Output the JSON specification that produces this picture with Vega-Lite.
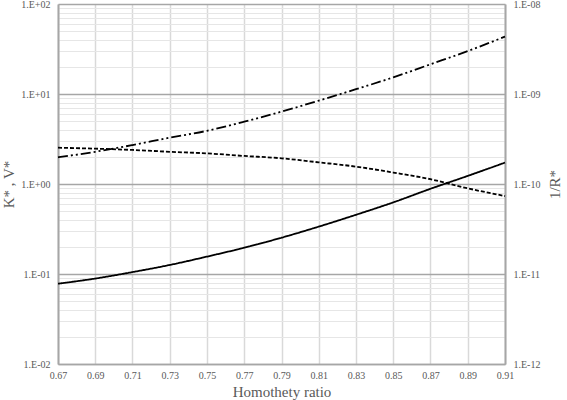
{
  "$schema": "https://vega.github.io/schema/vega-lite/v6.json",
  "autosize": "none",
  "width": 447,
  "height": 360,
  "padding": {"left": 58, "top": 4, "right": 62, "bottom": 36},
  "background": "white",
  "config": {
    "view": {"stroke": null},
    "axis": {"labelFont": "Liberation Serif", "titleFont": "Liberation Serif", "labelColor": "#595959", "titleColor": "#595959", "labelFontSize": 10, "titleFontSize": 15, "titleFontWeight": "normal", "ticks": false, "domainColor": "#a6a6a6", "domainWidth": 2, "labelOverlap": false, "labelBound": false}
  },
  "datasets": {
    "curves": [
      {"series": "K", "x": 0.67, "v": 0.078},
      {"series": "K", "x": 0.69, "v": 0.089},
      {"series": "K", "x": 0.71, "v": 0.105},
      {"series": "K", "x": 0.73, "v": 0.126},
      {"series": "K", "x": 0.75, "v": 0.156},
      {"series": "K", "x": 0.77, "v": 0.196},
      {"series": "K", "x": 0.79, "v": 0.253},
      {"series": "K", "x": 0.81, "v": 0.336},
      {"series": "K", "x": 0.83, "v": 0.455},
      {"series": "K", "x": 0.85, "v": 0.625},
      {"series": "K", "x": 0.87, "v": 0.885},
      {"series": "K", "x": 0.89, "v": 1.23},
      {"series": "K", "x": 0.91, "v": 1.73},
      {"series": "V", "x": 0.67, "v": 2.53},
      {"series": "V", "x": 0.69, "v": 2.47},
      {"series": "V", "x": 0.71, "v": 2.39},
      {"series": "V", "x": 0.73, "v": 2.28},
      {"series": "V", "x": 0.75, "v": 2.19},
      {"series": "V", "x": 0.77, "v": 2.05},
      {"series": "V", "x": 0.79, "v": 1.93},
      {"series": "V", "x": 0.81, "v": 1.74},
      {"series": "V", "x": 0.83, "v": 1.56},
      {"series": "V", "x": 0.85, "v": 1.34},
      {"series": "V", "x": 0.87, "v": 1.13},
      {"series": "V", "x": 0.89, "v": 0.895},
      {"series": "V", "x": 0.91, "v": 0.735}
    ],
    "rstar": [
      {"x": 0.67, "r": 1.98e-10},
      {"x": 0.69, "r": 2.28e-10},
      {"x": 0.71, "r": 2.71e-10},
      {"x": 0.73, "r": 3.27e-10},
      {"x": 0.75, "r": 3.9e-10},
      {"x": 0.77, "r": 4.92e-10},
      {"x": 0.79, "r": 6.37e-10},
      {"x": 0.81, "r": 8.43e-10},
      {"x": 0.83, "r": 1.13e-9},
      {"x": 0.85, "r": 1.53e-9},
      {"x": 0.87, "r": 2.14e-9},
      {"x": 0.89, "r": 3.0e-9},
      {"x": 0.91, "r": 4.34e-9}
    ]
  },
  "layer": [
    {
      "data": {"name": "curves"},
      "mark": {"type": "line", "color": "black", "strokeWidth": 1.8, "interpolate": "monotone"},
      "encoding": {
        "x": {"field": "x", "type": "quantitative", "scale": {"domain": [0.67, 0.91], "nice": false, "zero": false},
          "axis": {"title": "Homothety ratio", "values": [0.67,0.69,0.71,0.73,0.75,0.77,0.79,0.81,0.83,0.85,0.87,0.89,0.91], "format": ".2f", "grid": true, "gridColor": "#d9d9d9", "gridWidth": 1.5, "labelPadding": 6, "titlePadding": 4, "domainWidth": 1.5, "labelOverlap": false, "labelFlush": false, "labelBound": false}},
        "y": {"field": "v", "type": "quantitative", "scale": {"type": "log", "domain": [0.01, 100], "nice": false},
          "axis": {"title": "K* , V*", "orient": "left",
            "values": [0.01,0.02,0.03,0.04,0.05,0.06,0.07,0.08,0.09,0.1,0.2,0.3,0.4,0.5,0.6,0.7,0.8,0.9,1,2,3,4,5,6,7,8,9,10,20,30,40,50,60,70,80,90,100],
            "labelExpr": "abs(log(datum.value)/LN10 - round(log(datum.value)/LN10)) < 0.001 ? '1.E' + (round(log(datum.value)/LN10) >= 0 ? '+' : '-') + pad('' + abs(round(log(datum.value)/LN10)), 2, '0', 'left') : ''",
            "grid": true,
            "gridColor": {"condition": {"test": "abs(log(datum.value)/LN10 - round(log(datum.value)/LN10)) < 0.001", "value": "#a6a6a6"}, "value": "#e6e6e6"},
            "gridWidth": {"condition": {"test": "abs(log(datum.value)/LN10 - round(log(datum.value)/LN10)) < 0.001", "value": 1.5}, "value": 1.2},
            "labelPadding": 8, "titlePadding": 4, "labelFlush": false}},
        "strokeDash": {"field": "series", "type": "nominal", "scale": {"domain": ["K", "V"], "range": [[1, 0], [4, 2]]}, "legend": null}
      }
    },
    {
      "data": {"name": "rstar"},
      "mark": {"type": "line", "color": "black", "strokeWidth": 1.8, "strokeDash": [10, 3, 2, 3, 2, 3], "interpolate": "monotone"},
      "encoding": {
        "x": {"field": "x", "type": "quantitative",
          "axis": {"title": "Homothety ratio", "values": [0.67,0.69,0.71,0.73,0.75,0.77,0.79,0.81,0.83,0.85,0.87,0.89,0.91], "format": ".2f", "grid": true, "gridColor": "#d9d9d9", "gridWidth": 1.5, "labelPadding": 6, "titlePadding": 4, "domainWidth": 1.5, "labelOverlap": false, "labelFlush": false, "labelBound": false}},
        "y": {"field": "r", "type": "quantitative", "scale": {"type": "log", "domain": [1e-12, 1e-8], "nice": false},
          "axis": {"title": "1/R*", "orient": "right", "values": [1e-12, 1e-11, 1e-10, 1e-9, 1e-8], "grid": false,
            "labelExpr": "'1.E-' + pad('' + abs(round(log(datum.value)/LN10)), 2, '0', 'left')",
            "labelPadding": 8, "titlePadding": 8, "titleAngle": -90, "titleBaseline": "top", "labelFlush": false}}
      }
    }
  ],
  "resolve": {"scale": {"y": "independent"}}
}
